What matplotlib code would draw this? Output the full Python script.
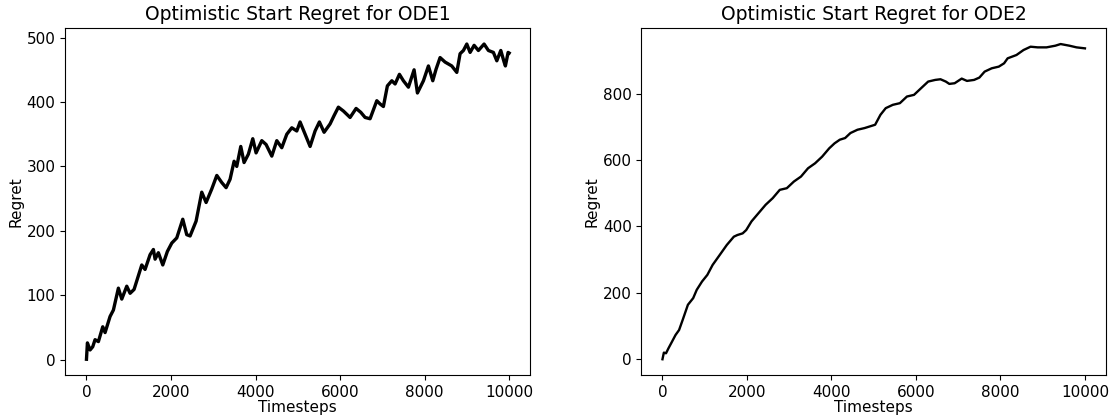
import numpy as np
import matplotlib
matplotlib.use('Agg')
import matplotlib.pyplot as plt

# regret curve, ODE1 (timestep, regret)
t1 = [0, 22, 85, 148, 203, 282, 385, 440, 558, 637, 755, 835, 953, 1032, 1126,
      1308, 1386, 1505, 1583, 1623, 1701, 1805, 1914, 2018, 2136, 2278, 2372,
      2451, 2593, 2727, 2830, 2964, 3083, 3200, 3303, 3397, 3492, 3555, 3650,
      3728, 3830, 3934, 4012, 4147, 4249, 4384, 4502, 4620, 4739, 4857, 4975,
      5053, 5172, 5290, 5408, 5510, 5621, 5763, 5858, 5959, 6078, 6236, 6378,
      6489, 6591, 6709, 6868, 6945, 7024, 7118, 7223, 7301, 7403, 7497, 7616,
      7750, 7829, 7971, 8089, 8192, 8270, 8365, 8483, 8641, 8760, 8838, 8917,
      8997, 9075, 9170, 9271, 9406, 9508, 9626, 9707, 9801, 9880, 9910, 9974,
      9999]
r1 = [0.6, 26, 15, 20, 31, 28, 51, 42, 67, 77, 111, 94, 114, 103, 109,
      147, 140, 163, 171, 156, 166, 147, 168, 181, 189, 218, 194,
      192, 215, 260, 244, 265, 286, 275, 267, 280, 308, 300, 331,
      306, 319, 343, 321, 340, 334, 316, 340, 329, 350, 360, 355,
      369, 350, 331, 355, 369, 353, 366, 379, 392, 386, 376, 390,
      384, 376, 374, 402, 397, 393, 425, 433, 428, 443, 433, 423,
      450, 414, 433, 456, 433, 451, 469, 462, 456, 446, 475, 480,
      490, 477, 488, 480, 490, 480, 477, 464, 480, 462, 456, 477,
      476]

# regret curve, ODE2
t2 = [0, 33, 84, 142, 226, 309, 393, 477, 602, 727, 811, 936, 1062, 1187,
      1355, 1522, 1689, 1773, 1898, 1982, 2107, 2274, 2441, 2609, 2776, 2943,
      3110, 3278, 3445, 3612, 3779, 3946, 4072, 4197, 4323, 4448, 4615, 4783,
      4908, 5033, 5159, 5284, 5452, 5619, 5786, 5953, 6120, 6288, 6455, 6580,
      6706, 6789, 6915, 7082, 7207, 7375, 7500, 7625, 7793, 7960, 8085, 8169,
      8378, 8545, 8712, 8880, 9089, 9298, 9423, 9632, 9799, 9999]
r2 = [0, 20, 18, 33, 53, 73, 88, 118, 164, 184, 209, 234, 254, 284,
      314, 344, 369, 374, 379, 389, 415, 440, 465, 485, 510, 515,
      535, 550, 575, 590, 610, 635, 650, 661, 666, 681, 691, 696,
      701, 706, 736, 756, 766, 771, 791, 796, 816, 836, 841, 843,
      836, 829, 831, 845, 838, 841, 848, 866, 876, 881, 891, 906,
      916, 931, 941, 939, 939, 944, 949, 944, 939, 936]

fig = plt.figure(figsize=(11.15, 4.19), dpi=100)
ax1 = fig.add_axes([0.0586, 0.105, 0.417, 0.8275])
ax2 = fig.add_axes([0.5752, 0.105, 0.4168, 0.8275])

ax1.plot(t1, r1, color='black', linewidth=2.4)
ax2.plot(t2, r2, color='black', linewidth=1.7)

for ax, name in [(ax1, 'ODE1'), (ax2, 'ODE2')]:
    ax.set_title('Optimistic Start Regret for ' + name, fontsize=13.5)
    ax.set_xlabel('Timesteps', fontsize=11, labelpad=0)
    ax.set_ylabel('Regret', fontsize=11, labelpad=2)
    ax.tick_params(labelsize=11)

ax2.set_yticks([0, 200, 400, 600, 800])

plt.savefig('out.png', dpi=100)
